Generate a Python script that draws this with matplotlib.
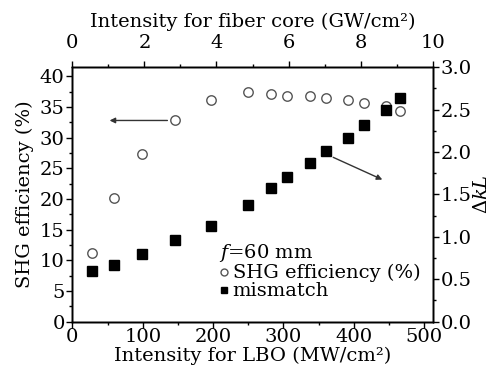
import matplotlib
matplotlib.use("Agg")
import matplotlib.pyplot as plt
from matplotlib.ticker import MultipleLocator, FormatStrFormatter
from matplotlib.lines import Line2D

# LBO intensity (MW/cm^2)
intensity = [28, 59, 99, 146, 197, 250, 282, 305, 337, 361, 391, 415, 446, 466]
# SHG efficiency (%)
shg_eff = [11.2, 20.2, 27.4, 32.8, 36.2, 37.5, 37.1, 36.8, 36.8, 36.5, 36.2, 35.6, 35.1, 34.3]
# phase mismatch Delta k L
mismatch = [0.60, 0.67, 0.80, 0.96, 1.13, 1.38, 1.58, 1.70, 1.87, 2.01, 2.16, 2.32, 2.49, 2.64]

top_ticks = [0, 2, 4, 6, 8, 10]

plt.rcParams["font.family"] = "DejaVu Serif"
plt.rcParams["mathtext.fontset"] = "dejavuserif"
plt.rcParams["font.size"] = 14

fig = plt.figure(figsize=(4.91, 3.73), dpi=100)
ax = fig.add_axes([0.1473, 0.1380, 0.734, 0.682])

ax.plot(intensity, shg_eff, linestyle="none", marker="o", markersize=6.8,
        markerfacecolor="white", markeredgecolor="#555555", markeredgewidth=1.0)
ax.set_xlim(0, 512)
ax.set_ylim(0, 41.5)
ax.xaxis.set_major_locator(MultipleLocator(100))
ax.xaxis.set_minor_locator(MultipleLocator(50))
ax.yaxis.set_major_locator(MultipleLocator(5))
ax.yaxis.set_minor_locator(MultipleLocator(2.5))
ax.set_xlabel("Intensity for LBO (MW/cm²)", labelpad=0)
ax.set_ylabel("SHG efficiency (%)", labelpad=4)

ax2 = ax.twinx()
ax2.plot(intensity, mismatch, linestyle="none", marker="s", markersize=6.5,
         color="black")
ax2.set_ylim(0, 3.0)
ax2.yaxis.set_major_locator(MultipleLocator(0.5))
ax2.yaxis.set_minor_locator(MultipleLocator(0.25))
ax2.yaxis.set_major_formatter(FormatStrFormatter("%.1f"))
ax2.set_ylabel(r"$\Delta kL$", labelpad=1)

ax3 = ax.twiny()
ax3.set_xlim(0, 10)
ax3.set_xticks(top_ticks)
ax3.xaxis.set_minor_locator(MultipleLocator(1))
ax3.set_xlabel("Intensity for fiber core (GW/cm²)", labelpad=5)

for a in (ax, ax2, ax3):
    a.tick_params(which="major", direction="out", length=4, width=1, pad=1.5,
                  labelsize=14)
    a.tick_params(which="minor", direction="out", length=2.5, width=1)
    for s in a.spines.values():
        s.set_linewidth(1.0)
ax3.tick_params(axis="x", which="major", pad=7)
ax.tick_params(axis="x", which="major", pad=1)

# arrows pointing to the corresponding axis
ax.annotate("", xy=(49, 32.8), xytext=(139, 32.8),
            arrowprops=dict(arrowstyle="-|>", color="#333333", lw=1,
                            mutation_scale=8))
ax2.annotate("", xy=(444, 1.66), xytext=(367, 1.95),
             arrowprops=dict(arrowstyle="-|>", color="#333333", lw=1,
                             mutation_scale=8))

handles = [
    Line2D([], [], linestyle="none", marker="o", markersize=5,
           markerfacecolor="white", markeredgecolor="#555555"),
    Line2D([], [], linestyle="none", marker="s", markersize=5, color="black"),
]
leg = ax2.legend(handles, ["SHG efficiency (%)", "mismatch"],
                 title=r"$f$=60 mm", loc="upper left",
                 bbox_to_anchor=(0.38, 0.35), frameon=False,
                 handlelength=0.5, handletextpad=0.2, labelspacing=0.0,
                 borderpad=0.0, fontsize=14, title_fontsize=14)
leg._legend_box.align = "left"
leg._legend_box.sep = 0

fig.savefig("out.png", dpi=100)
